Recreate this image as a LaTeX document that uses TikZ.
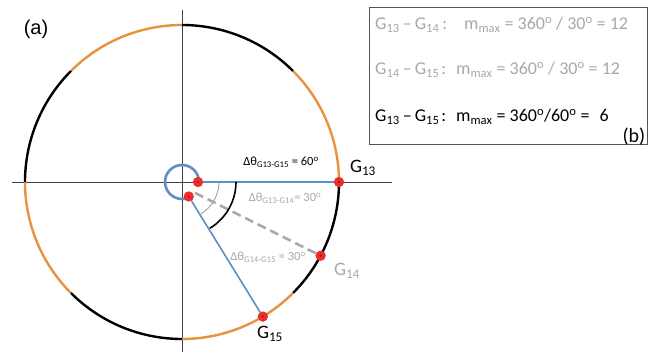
\documentclass[tikz,border=0pt]{standalone}
\usepackage{fontspec}
\setmainfont{Carlito}
\newfontfamily\arialfont{Liberation Sans}
\usepackage{tikz}
\usetikzlibrary{arrows.meta,positioning,calc}
\definecolor{ring}{HTML}{E8913F}
\definecolor{bluel}{HTML}{5B8FC7}
\definecolor{faded}{HTML}{A8A8A8}
\definecolor{axis}{HTML}{404040}
\definecolor{dotred}{HTML}{F22A2A}
\definecolor{frame}{HTML}{555555}
\newcommand{\sbs}[1]{\textsubscript{#1}}
\newcommand{\dg}{\textsuperscript{o}}
\tikzset{
  gdot/.style={circle,fill=dotred,inner sep=0pt,minimum size=10pt,
    path picture={\fill[black!75] (path picture bounding box.center) circle (1.2pt);}},
  ray/.style={bluel,line width=1.6pt},
  lab/.style={font=\fontsize{19}{22}\selectfont,inner sep=0pt},
  ang/.style={font=\fontsize{12.5}{15}\selectfont,inner sep=0pt},
  row/.style={font=\fontsize{18}{21}\selectfont,inner sep=0pt,anchor=west}
}
\begin{document}
\begin{tikzpicture}[x=1pt,y=1pt]
  \useasboundingbox (-182,-173) rectangle (474,182);
  \draw[axis,line width=.8pt] (-170,0)--(210,0);
  \draw[axis,line width=.8pt] (0,172)--(0,-170);
  \foreach \a in {0,90,180,270} {
    \draw[ring,line width=2.4pt] (\a:157pt) arc[start angle=\a,end angle=\a+45,radius=157pt];
    \draw[black,line width=2.4pt] (\a-45:157pt) arc[start angle=\a-45,end angle=\a,radius=157pt];
  }
  \draw[bluel,line width=2.6pt] (0:17pt) arc[start angle=0,end angle=295,radius=17pt];
  \node[gdot] (s1) at (0:16pt) {};
  \node[gdot] (s2) at (-65:16pt) {};
  \coordinate (s3) at (-40:17pt);
  \node[gdot] (g13) at (0:157pt) {};
  \node[gdot] (g14) at (-28:157pt) {};
  \node[gdot] (g15) at (-59:157pt) {};
  \draw[faded,line width=2.6pt,dash pattern=on 9pt off 5pt] (s3)--(g14.center);
  \draw[ray] (s1)--(g13);
  \draw[ray] (s2)--(g15);
  \draw[faded,line width=1pt] (37,0) arc[start angle=0,end angle=-59,radius=37pt];
  \draw[black,line width=1.6pt] (54,0) arc[start angle=0,end angle=-59,radius=54pt];
  \foreach \n in {s1,s2,g13,g14,g15} {\node[gdot] at (\n) {};}
  \node[ang] (d1315) at (99,20) {Δθ\sbs{G13-G15} = 60\dg};
  \node[ang,text=faded] (d1314) at (103,-16) {Δθ\sbs{G13-G14}= 30\dg};
  \node[ang,text=faded] (d1415) at (86,-75) {Δθ\sbs{G14-G15} = 30\dg};
  \node[lab] (l13) at (181,14) {G\sbs{13}};
  \node[lab,text=faded] (l14) at (165,-89) {G\sbs{14}};
  \node[lab] (l15) at (88,-152) {G\sbs{15}};
  \node[font=\arialfont\fontsize{20}{24}\selectfont] (tagA) at (-146,153) {(a)};
  \node[draw=frame,line width=.8pt,minimum width=278pt,minimum height=137pt] (tbl) at (326,106.5) {};
  \node[row,text=faded] (r1) at (193,157) {G\sbs{13}\,–\,G\sbs{14}\hspace{3pt}:\hspace{17pt}m\sbs{max} = 360\dg\ / 30\dg\ = 12};
  \node[row,text=faded] (r2) at (193,112) {G\sbs{14}\,–\,G\sbs{15}\hspace{2pt}:\hspace{10pt}m\sbs{max} = 360\dg\ / 30\dg\ = 12};
  \node[row] (r3) at (193,65) {G\sbs{13}\,–\,G\sbs{15}\hspace{2pt}:\hspace{10pt}m\sbs{max} = 360\dg /60\dg\ =\hspace{10pt}6};
  \node[font=\fontsize{20}{24}\selectfont,inner sep=0pt] (tagB) at (452,45) {(b)};
\end{tikzpicture}
\end{document}
